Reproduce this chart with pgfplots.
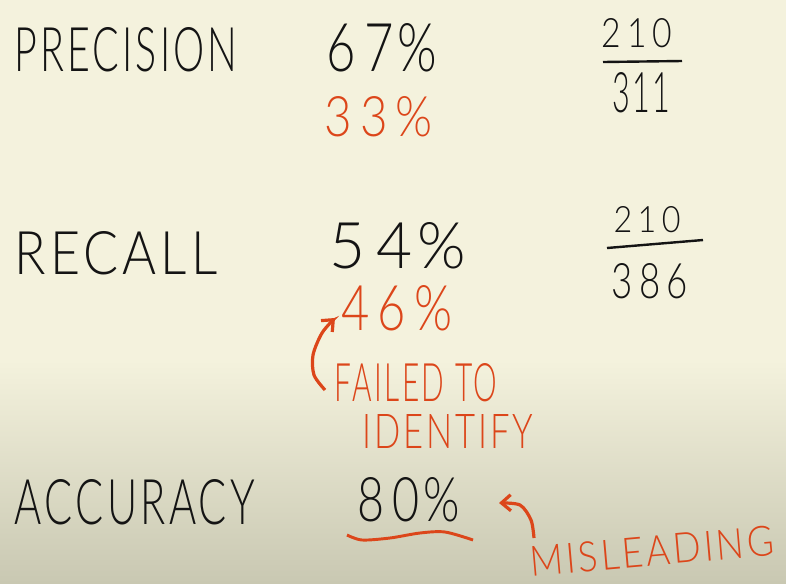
\documentclass[border=0pt]{standalone}
\usepackage{pgfplots}
\pgfplotsset{compat=1.18}
\usepackage{fontspec}
\setmainfont{Lato}[UprightFont={* Light},BoldFont={* Regular},LetterSpace=8]
\usetikzlibrary{arrows.meta}
\usepackage{graphicx}
\newlength\px \setlength\px{0.75pt}
\definecolor{bgtop}{HTML}{F4F2DD}
\definecolor{bgbot}{HTML}{C9C8B2}
\definecolor{ink}{HTML}{141414}
\definecolor{redink}{HTML}{DC461A}
\newcommand\hw[3]{\resizebox{#1\px}{#2\px}{#3}}
\begin{document}
\begin{tikzpicture}
\begin{axis}[hide axis, scale only axis, width=589.5pt, height=437.25pt,
  xmin=0, xmax=786, ymin=0, ymax=583, y dir=reverse, clip=false]
\fill[bgtop] (axis cs:0,0) rectangle (axis cs:786,583);
\shade[top color=bgtop, bottom color=bgbot] (axis cs:0,360) rectangle (axis cs:786,583);
\tikzset{every node/.style={inner sep=0pt}}
% black labels
\node[ink] at (axis cs:126,50) {\hw{223}{44}{PRECISION}};
\node[ink] at (axis cs:382,48) {\hw{111}{48}{6\,7\%}};
\node[ink] at (axis cs:637,33) {\hw{70}{29}{2\,1\,0}};
\node[ink] at (axis cs:641,93) {\hw{58}{40}{311}};
\node[ink] at (axis cs:116,253) {\hw{203}{43}{RECALL}};
\node[ink] at (axis cs:398,246) {\hw{136}{46}{5\,4\%}};
\node[ink] at (axis cs:647,220) {\hw{67}{26}{2\,1\,0}};
\node[ink] at (axis cs:650,281) {\hw{76}{35}{3\,8\,6}};
\node[ink] at (axis cs:135,502) {\hw{240}{45}{ACCURACY}};
\node[ink] at (axis cs:409,500) {\hw{102}{44}{8\,0\%}};
% red labels
\node[redink] at (axis cs:379,117) {\hw{108}{40}{3\,3\,\%}};
\node[redink] at (axis cs:397,308) {\hw{111}{45}{4\,6\,\%}};
\node[redink] at (axis cs:416,383) {\hw{162}{38}{FAILED TO}};
\node[redink] at (axis cs:448,431) {\hw{170}{34}{IDENTIFY}};
\node[redink, rotate=5] at (axis cs:652,551) {\hw{245}{30}{MISLEADING}};
% fraction bars
\addplot[ink, line width=1.8pt] coordinates {(603,62) (682,61)};
\addplot[ink, line width=1.8pt] coordinates {(607,248) (703,240)};
% red strokes
\addplot[redink, line width=2.4pt, smooth, -{Straight Barb[length=7pt,width=12pt]}]
  coordinates {(325,390) (314,375) (313,355) (322,333) (335,318)};
\addplot[redink, line width=2.2pt, smooth]
  coordinates {(347,535) (362,540) (390,538) (420,533) (445,532) (473,540)};
\addplot[redink, line width=2.4pt, smooth, -{Straight Barb[length=7pt,width=12pt]}]
  coordinates {(534,538) (531,520) (520,505) (499,503)};
\end{axis}
\end{tikzpicture}
\end{document}
